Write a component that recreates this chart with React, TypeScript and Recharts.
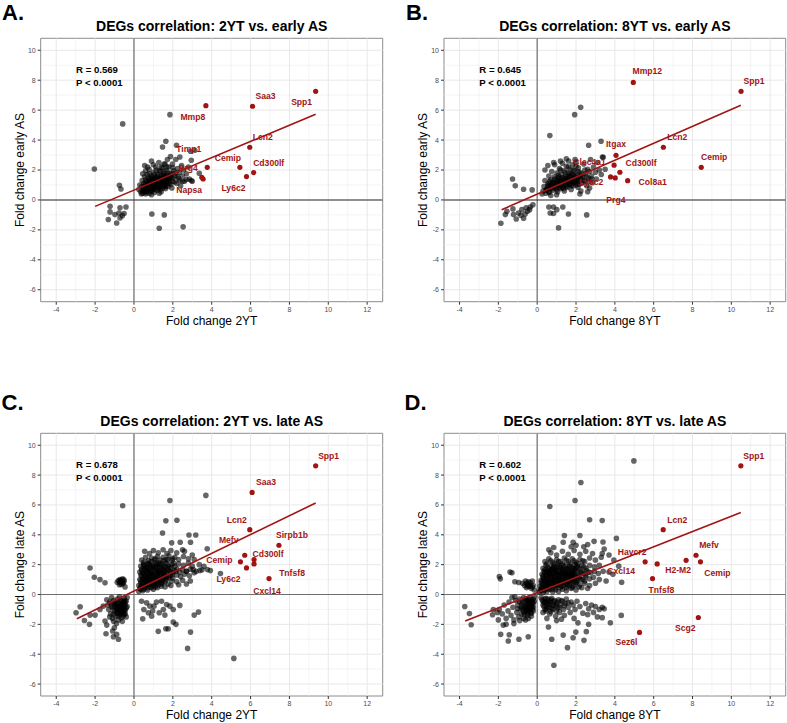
import React from 'react';
import { ScatterChart, Scatter, XAxis, YAxis, ReferenceLine, ReferenceArea } from 'recharts';

type Pt = [number, number];
type Gene = { gene: string; x: number; y: number };

const RED = '#a11414';
const FONT = '"Liberation Sans", Arial, Helvetica, sans-serif';

const xTicks = [-4, -2, 0, 2, 4, 6, 8, 10, 12];
const xMinor = [-3, -1, 1, 3, 5, 7, 9, 11];
const yTicks = [-6, -4, -2, 0, 2, 4, 6, 8, 10];
const yMinor = [-5, -3, -1, 1, 3, 5, 7, 9];

// ---------- A: 2YT vs early AS ----------
const grayA: Pt[] = [
  [1.85, 5.7], [-0.58, 5.08], [-2.04, 2.07], [1.64, 3.92], [1.47, 3.54], [2.19, 3.65], [2.36, 2.87],
  [2.91, 3.25], [3.13, 3.32], [2.95, 2.65], [3.36, 1.78], [2.5, 1.25], [2.7, 1.36], [3.0, 1.25],
  [-0.75, 0.98], [-0.67, 0.73],
  [-1.23, -0.42], [-1.23, -0.8], [-0.98, -0.98], [-1.32, -1.31], [-0.89, -1.54], [-0.72, -0.53],
  [-0.41, -0.47], [-0.77, -0.87], [-0.6, -1.05], [-0.72, -1.2], [-0.51, -0.91],
  [0.92, -0.94], [1.56, -1.0], [1.3, -1.89], [2.53, -1.8],
  [0.35, 0.55], [0.4, 0.9], [0.42, 1.3], [0.45, 0.45], [0.5, 0.7], [0.5, 1.1], [0.55, 1.55], [0.55, 2.3],
  [0.6, 0.4], [0.62, 0.85], [0.65, 1.25], [0.68, 1.7], [0.7, 0.6], [0.72, 1.0], [0.75, 1.45], [0.78, 2.05],
  [0.8, 0.45], [0.82, 0.8], [0.85, 1.2], [0.88, 1.6], [0.9, 2.6], [0.92, 0.6], [0.95, 1.0], [0.97, 1.35],
  [1.0, 1.85], [1.0, 0.75], [1.05, 0.5], [1.08, 1.15], [1.1, 1.5], [1.12, 2.2], [1.15, 0.9], [1.18, 1.3],
  [1.2, 0.65], [1.22, 1.7], [1.25, 1.05], [1.28, 2.5], [1.3, 0.8], [1.32, 1.4], [1.35, 1.9], [1.38, 1.15],
  [1.4, 0.55], [1.42, 1.6], [1.45, 2.15], [1.48, 0.95], [1.5, 1.3], [1.52, 1.75], [1.55, 2.4], [1.58, 1.05],
  [1.6, 1.45], [1.62, 0.75], [1.65, 2.0], [1.68, 1.25], [1.7, 1.65], [1.72, 2.7], [1.75, 0.9], [1.78, 1.4],
  [1.8, 2.2], [1.82, 1.1], [1.85, 1.8], [1.88, 2.9], [1.9, 1.5], [1.95, 0.8], [1.98, 2.4], [2.0, 1.25],
  [2.05, 1.95], [2.1, 1.6], [2.15, 2.7], [2.2, 1.1], [2.25, 2.1], [2.3, 1.45], [2.35, 1.85], [2.4, 0.95],
  [2.45, 2.3], [2.5, 1.6], [2.55, 2.0], [2.6, 1.25], [2.7, 1.75], [2.8, 2.2], [2.85, 1.4], [0.25, 0.7],
  [0.3, 1.0], [0.45, 1.75], [0.6, 1.95], [0.7, 2.2], [1.0, 2.35], [0.38, 0.4], [0.52, 0.55], [0.9, 0.35],
  [1.3, 0.45], [2.95, 1.3],
];
// the dense middle of the A cloud
const coreA: Pt[] = [
  [0.45, 0.6], [0.55, 0.95], [0.6, 1.35], [0.7, 0.8], [0.75, 1.15], [0.8, 1.75], [0.85, 0.6], [0.9, 1.05],
  [0.95, 1.5], [1.0, 0.9], [1.05, 1.3], [1.05, 1.7], [1.1, 0.7], [1.15, 1.1], [1.2, 1.5], [1.25, 0.85],
  [1.3, 1.25], [1.3, 1.95], [1.35, 0.7], [1.4, 1.05], [1.45, 1.45], [1.5, 0.8], [1.55, 1.15], [1.55, 1.9],
  [1.6, 1.6], [1.65, 0.95], [1.7, 1.35], [1.75, 1.8], [1.8, 1.25], [1.85, 1.55], [1.9, 1.05], [1.95, 1.75],
  [2.0, 1.45], [2.1, 1.2], [2.15, 1.8], [2.25, 1.55], [2.35, 1.3], [0.65, 0.5], [0.95, 0.75], [1.15, 2.0],
  [1.4, 2.2], [1.7, 2.2], [2.0, 2.15], [1.6, 2.4],
  [0.5, 0.8], [0.6, 1.1], [0.7, 0.7], [0.75, 1.3], [0.8, 0.95], [0.9, 1.25], [0.95, 0.7], [1.0, 1.05],
  [1.05, 1.4], [1.1, 0.85], [1.15, 1.2], [1.2, 1.6], [1.25, 0.95], [1.3, 1.35], [1.35, 0.85], [1.4, 1.2],
  [1.45, 1.65], [1.5, 1.05], [1.55, 1.35], [1.6, 0.9], [1.65, 1.55], [1.7, 1.1], [1.8, 1.45], [0.65, 0.9],
  [0.85, 1.45], [1.2, 1.05], [1.4, 1.45], [0.55, 0.6],
];
const genesA: Gene[] = [
  { gene: 'Spp1', x: 9.35, y: 7.26 },
  { gene: 'Saa3', x: 6.1, y: 6.26 },
  { gene: 'Mmp8', x: 3.7, y: 6.3 },
  { gene: 'Lcn2', x: 5.96, y: 3.52 },
  { gene: 'Cemip', x: 5.45, y: 2.18 },
  { gene: 'Cd300lf', x: 6.16, y: 1.83 },
  { gene: 'Ly6c2', x: 5.79, y: 1.56 },
  { gene: 'Timp1', x: 3.49, y: 1.51 },
  { gene: 'Prg4', x: 3.77, y: 2.18 },
  { gene: 'Napsa', x: 3.56, y: 1.4 },
];
const fitA: Pt[] = [[-2.0, -0.43], [9.35, 5.72]];
const statA = ['R = 0.569', 'P < 0.0001'];
const nudgeA: Record<string, Pt> = {
  Spp1: [-14, 11], Saa3: [13, -10], Mmp8: [-13, 11], Lcn2: [13, -10], Cemip: [-12, -9],
  Cd300lf: [15, -10], Ly6c2: [-13, 11], Timp1: [-13, -28], Prg4: [-19, 1], Napsa: [-14, 11],
};

// ---------- B: 8YT vs early AS ----------
const grayB: Pt[] = [
  [1.93, 5.7], [2.24, 6.19], [0.65, 4.3], [3.29, 3.92], [2.65, 3.65], [3.36, 2.87],
  [-1.27, 1.4], [-1.13, 0.94], [-0.7, 0.71], [-0.26, 0.67],
  [-1.87, -1.56], [-1.56, -0.76], [-1.64, -0.98], [-1.25, -0.6], [-1.08, -1.27], [-0.84, -1.02],
  [-0.7, -1.22], [-0.62, -0.94], [-0.5, -0.76], [-0.36, -0.47], [-0.22, -0.33], [-0.79, -0.65],
  [-0.57, -0.53], [-0.96, -0.87], [-1.22, -0.98], [-0.39, -0.65],
  [0.6, -0.47], [0.84, -0.47], [1.01, -0.65], [0.84, -0.91], [1.32, -0.47], [1.61, -0.94],
  [1.1, -1.87], [2.55, -1.0], [0.67, -0.87],
  [0.3, 0.6], [0.35, 0.9], [0.4, 1.3], [0.45, 0.45], [0.5, 0.75], [0.55, 1.1], [0.6, 1.6], [0.62, 0.5],
  [0.68, 0.95], [0.7, 1.35], [0.75, 1.9], [0.8, 0.65], [0.85, 1.15], [0.88, 1.55], [0.9, 2.35], [0.95, 0.8],
  [1.0, 1.3], [1.02, 1.8], [1.05, 0.55], [1.1, 1.0], [1.12, 1.5], [1.15, 2.1], [1.2, 0.75], [1.22, 1.25],
  [1.25, 1.7], [1.3, 2.45], [1.32, 0.95], [1.35, 1.4], [1.38, 1.95], [1.4, 0.6], [1.45, 1.15], [1.48, 1.6],
  [1.5, 2.25], [1.55, 0.85], [1.58, 1.3], [1.6, 1.8], [1.62, 2.6], [1.65, 1.05], [1.68, 1.5], [1.7, 2.05],
  [1.75, 0.7], [1.78, 1.25], [1.8, 1.7], [1.82, 2.35], [1.85, 0.95], [1.9, 1.45], [1.92, 1.95], [1.95, 2.7],
  [2.0, 1.15], [2.05, 1.65], [2.1, 0.85], [2.12, 2.15], [2.15, 1.35], [2.2, 1.85], [2.25, 0.6], [2.3, 1.1],
  [2.35, 1.55], [2.4, 2.4], [2.45, 1.25], [2.5, 1.75], [2.55, 0.95], [2.6, 2.05], [2.65, 1.45], [2.7, 0.8],
  [2.75, 2.7], [2.8, 1.6], [2.85, 1.15], [2.9, 2.2], [3.0, 1.85], [3.05, 1.4], [3.1, 2.5], [3.2, 2.0],
  [3.3, 1.7], [3.4, 2.85], [3.5, 2.05], [0.25, 0.4], [0.4, 2.0], [0.55, 2.3], [0.85, 2.5], [1.2, 2.6],
  [1.5, 2.75], [2.0, 2.5], [2.2, 0.4], [2.6, 0.55], [1.0, 0.35], [0.7, 0.3],
];
const coreB: Pt[] = [
  [0.45, 0.65], [0.55, 0.95], [0.65, 1.25], [0.75, 0.75], [0.8, 1.1], [0.9, 1.4], [0.95, 0.95], [1.05, 1.2],
  [1.1, 1.65], [1.15, 0.85], [1.25, 1.05], [1.3, 1.5], [1.35, 0.75], [1.4, 1.25], [1.45, 1.85], [1.5, 1.0],
  [1.55, 1.45], [1.65, 1.2], [1.7, 1.75], [1.75, 0.95], [1.8, 1.4], [1.85, 2.0], [1.9, 1.15], [1.95, 1.6],
  [2.05, 1.35], [2.1, 1.9], [2.15, 1.05], [2.25, 1.45], [2.3, 1.75], [2.4, 1.3], [2.45, 2.0], [2.55, 1.55],
  [2.65, 1.2], [2.7, 1.9], [2.8, 1.4], [0.6, 0.55], [1.0, 0.7], [1.2, 2.0], [1.6, 2.2], [2.0, 2.25],
  [0.5, 0.7], [0.6, 1.0], [0.7, 0.8], [0.8, 1.2], [0.9, 0.9], [1.0, 1.1], [1.05, 1.45], [1.15, 1.0],
  [1.2, 1.35], [1.3, 0.85], [1.35, 1.2], [1.45, 1.5], [1.5, 0.9], [1.55, 1.25], [1.65, 1.6], [1.7, 1.05],
  [1.8, 1.3], [1.85, 1.7], [1.95, 1.2], [2.05, 1.5], [2.15, 1.25], [2.25, 1.6], [0.75, 1.0], [1.1, 1.25],
  [1.6, 1.4], [2.0, 1.0],
];
const genesB: Gene[] = [
  { gene: 'Mmp12', x: 4.95, y: 7.85 },
  { gene: 'Spp1', x: 10.5, y: 7.26 },
  { gene: 'Lcn2', x: 6.5, y: 3.52 },
  { gene: 'Cemip', x: 8.45, y: 2.18 },
  { gene: 'Itgax', x: 4.06, y: 2.98 },
  { gene: 'Cd300lf', x: 3.96, y: 2.32 },
  { gene: 'Clec4a1', x: 3.78, y: 1.54 },
  { gene: 'Ly6c2', x: 4.02, y: 1.47 },
  { gene: 'Prg4', x: 4.26, y: 1.85 },
  { gene: 'Col8a1', x: 4.66, y: 1.29 },
];
const fitB: Pt[] = [[-1.83, -0.65], [10.49, 6.32]];
const statB = ['R = 0.645', 'P < 0.0001'];
const nudgeB: Record<string, Pt> = {
  Mmp12: [14, -11], Spp1: [13, -10], Lcn2: [14, -10], Cemip: [13, -10], Itgax: [0, -11],
  Cd300lf: [27, -2], Clec4a1: [-21, -15], Ly6c2: [-24, 4], Prg4: [-4, 28], Col8a1: [25, 1],
};

// ---------- C: 2YT vs late AS ----------
const grayC: Pt[] = [
  [-0.58, 5.95], [1.85, 6.3], [3.7, 6.64], [1.64, 4.94], [2.21, 4.97], [1.47, 4.12], [2.83, 3.99],
  [3.18, 3.99], [2.38, 3.5], [2.91, 3.5], [1.94, 3.46], [3.77, 3.07], [3.6, 1.89], [3.78, 1.67],
  [3.93, 1.6], [3.39, 1.6], [4.45, 1.4], [3.0, 2.65], [2.5, 3.0], [3.1, 2.34], [3.36, 2.0], [3.05, 1.67],
  [2.7, 1.56],
  [-2.26, 1.78], [-2.04, 1.16], [-1.75, 1.0], [-1.49, 0.78],
  [-0.86, 0.82], [-0.72, 1.0], [-0.58, 1.05], [-0.51, 0.89], [-0.72, 0.78], [-0.63, 0.67], [-0.46, 0.51],
  [-0.8, 0.93], [-0.55, 0.75], [-0.65, 0.95], [-0.75, 0.65],
  [-2.98, -1.22], [-2.77, -0.82], [-2.55, -1.74], [-2.29, -2.0], [-2.26, -1.38], [-2.0, -1.38],
  [-1.58, -0.78], [-1.49, -1.78], [-1.4, -2.05], [-1.44, -2.63], [-1.1, -2.45], [-1.06, -2.83],
  [-0.89, -2.67], [-0.8, -3.0], [-1.01, -2.23], [-1.75, -1.0],
  [0.39, -0.45], [0.65, -0.56], [0.51, -1.0], [0.45, -1.63], [0.91, -1.45], [1.03, -0.78], [1.16, -0.51],
  [1.42, -0.45], [1.51, -1.0], [1.3, -1.22], [1.59, -1.38], [1.25, -2.47], [1.64, -2.29], [1.76, -2.29],
  [2.02, -1.85], [2.16, -2.0], [1.85, -0.78], [2.36, -0.73], [2.91, -2.52], [2.76, -3.61], [3.1, -1.38],
  [3.32, -1.18], [5.14, -4.28], [0.74, -1.22], [0.96, -1.11], [0.82, -0.78], [2.02, -1.0], [1.68, -0.67],
  [-1.35, -0.7], [-1.3, -1.0], [-1.25, -0.5], [-1.2, -1.3], [-1.15, -0.8], [-1.1, -1.6], [-1.05, -0.4],
  [-1.0, -1.1], [-0.95, -0.65], [-0.95, -1.45], [-0.9, -0.9], [-0.85, -0.3], [-0.85, -1.25], [-0.8, -0.6],
  [-0.8, -1.7], [-0.75, -1.0], [-0.7, -0.4], [-0.7, -1.35], [-0.65, -0.75], [-0.65, -1.55], [-0.6, -1.1],
  [-0.55, -0.5], [-0.55, -0.9], [-0.5, -1.3], [-0.5, -0.25], [-0.45, -0.7], [-0.45, -1.05], [-0.4, -0.45],
  [-0.4, -1.5], [-0.35, -0.8], [-0.35, -0.2], [-1.4, -0.35], [-1.25, -1.5], [-1.05, -1.8], [-0.9, -1.95],
  [-1.15, -0.2], [-0.6, -1.8], [-0.75, -0.15], [-1.0, -0.55], [-0.55, -1.45],
  [0.25, 0.2], [0.35, 0.35], [0.45, 0.25], [0.55, 0.45], [0.7, 0.3], [0.85, 0.5], [1.0, 0.35], [1.2, 0.45],
  [1.4, 0.55], [1.6, 0.5], [1.9, 0.6], [2.3, 0.65], [2.7, 0.7],
  [0.25, 0.6], [0.35, 0.75], [0.45, 0.65], [0.55, 0.85], [0.65, 0.7], [0.75, 0.9], [0.85, 0.75], [0.95, 0.65],
  [1.05, 0.85], [1.15, 0.7], [1.3, 0.9], [1.45, 0.75], [1.6, 0.85], [1.75, 0.7], [1.95, 0.9], [2.2, 0.85],
  [2.5, 0.95], [2.9, 0.9],
  [0.3, 1.0], [0.4, 1.2], [0.5, 1.05], [0.6, 1.25], [0.7, 1.1], [0.8, 1.3], [0.9, 1.0], [1.0, 1.2],
  [1.1, 1.05], [1.2, 1.3], [1.3, 1.1], [1.4, 1.25], [1.5, 1.0], [1.6, 1.3], [1.7, 1.15], [1.85, 1.25],
  [2.0, 1.1], [2.2, 1.3], [2.4, 1.2], [2.6, 1.35], [2.85, 1.25], [3.1, 1.45],
  [0.3, 1.5], [0.45, 1.4], [0.55, 1.65], [0.65, 1.45], [0.8, 1.6], [0.9, 1.4], [1.0, 1.7], [1.1, 1.5],
  [1.25, 1.6], [1.35, 1.45], [1.5, 1.7], [1.6, 1.5], [1.75, 1.65], [1.9, 1.45], [2.05, 1.6], [2.2, 1.7],
  [2.35, 1.5], [2.5, 1.65], [2.7, 1.55], [2.9, 1.7], [3.2, 1.55], [3.5, 1.65],
  [0.35, 1.9], [0.5, 2.0], [0.65, 1.85], [0.8, 2.05], [0.95, 1.9], [1.1, 2.1], [1.2, 1.85], [1.35, 2.0],
  [1.5, 1.9], [1.65, 2.1], [1.8, 1.85], [1.95, 2.0], [2.1, 1.9], [2.3, 2.05], [2.55, 1.95], [2.8, 2.1],
  [3.0, 1.9],
  [0.4, 2.3], [0.6, 2.5], [0.75, 2.25], [0.9, 2.45], [1.05, 2.3], [1.2, 2.55], [1.35, 2.3], [1.5, 2.5],
  [1.65, 2.35], [1.8, 2.6], [1.95, 2.3], [2.1, 2.5], [2.3, 2.35], [2.55, 2.55], [2.8, 2.4],
  [0.55, 2.9], [0.8, 2.75], [1.0, 2.95], [1.25, 2.8], [1.5, 3.0], [1.7, 2.75], [1.9, 2.95], [2.2, 2.8],
  [2.6, 2.9],
];
const coreC: Pt[] = [
  [0.3, 0.4], [0.4, 0.55], [0.5, 0.35], [0.6, 0.6], [0.7, 0.45], [0.8, 0.65], [0.9, 0.45], [1.0, 0.7],
  [1.1, 0.5], [1.25, 0.65], [1.4, 0.7],
  [0.35, 0.9], [0.45, 1.05], [0.55, 0.95], [0.65, 1.1], [0.75, 1.0], [0.85, 1.15], [0.95, 0.95], [1.05, 1.1],
  [1.15, 0.95], [1.25, 1.15], [1.35, 0.95], [1.5, 1.15], [1.65, 1.0], [1.8, 1.1], [1.95, 1.3],
  [0.35, 1.3], [0.5, 1.45], [0.6, 1.35], [0.7, 1.55], [0.85, 1.45], [0.95, 1.3], [1.05, 1.55], [1.2, 1.4],
  [1.3, 1.55], [1.45, 1.5], [1.55, 1.35], [1.7, 1.45], [1.85, 1.55], [2.0, 1.45], [2.15, 1.55],
  [0.4, 1.7], [0.55, 1.8], [0.7, 1.7], [0.85, 1.85], [1.0, 1.8], [1.15, 1.95], [1.3, 1.8], [1.45, 2.05],
  [1.6, 1.85], [1.75, 2.0], [1.9, 1.8], [2.05, 2.1],
  [0.5, 2.15], [0.7, 2.1], [0.9, 2.2], [1.1, 2.4], [1.3, 2.15], [1.55, 2.25], [1.75, 2.35], [2.0, 2.4],
  [-1.2, -0.6], [-1.1, -0.9], [-1.05, -1.3], [-0.95, -0.5], [-0.9, -1.15], [-0.85, -0.75], [-0.8, -1.45],
  [-0.75, -0.8], [-0.7, -1.15], [-0.65, -0.45], [-0.6, -0.95], [-0.55, -1.2], [-0.5, -0.6], [-0.45, -1.3],
  [-0.4, -0.9], [-0.6, -0.65], [-0.75, -1.3], [-1.0, -0.8], [-0.85, -1.0], [-0.5, -0.4],
  [-0.7, 0.85], [-0.6, 0.8], [-0.68, 0.95], [-0.52, 0.98],
  [0.35, 0.5], [0.45, 0.8], [0.55, 0.55], [0.6, 1.0], [0.7, 0.7], [0.75, 1.2], [0.85, 0.85], [0.9, 1.35],
  [1.0, 1.0], [1.05, 0.6], [1.1, 1.3], [1.2, 0.8], [1.25, 1.5], [1.3, 1.0], [1.4, 1.35], [1.45, 0.85],
  [1.55, 1.6], [1.6, 1.15], [1.7, 1.75], [0.4, 1.6], [0.55, 1.25], [0.65, 1.75], [0.8, 1.55], [0.95, 1.9],
  [1.1, 1.75], [1.2, 2.05], [1.4, 1.75], [0.5, 1.95], [0.75, 2.0],
  [-0.9, -0.7], [-0.8, -1.05], [-0.7, -0.6], [-0.65, -0.9], [-0.55, -0.7], [-0.5, -1.0], [-0.45, -0.5],
  [-0.75, -0.85], [-0.6, -1.2],
];
const genesC: Gene[] = [
  { gene: 'Spp1', x: 9.35, y: 8.62 },
  { gene: 'Saa3', x: 6.08, y: 6.84 },
  { gene: 'Lcn2', x: 5.96, y: 4.34 },
  { gene: 'Sirpb1b', x: 7.46, y: 3.3 },
  { gene: 'Mefv', x: 5.7, y: 2.63 },
  { gene: 'Cd300lf', x: 6.18, y: 2.34 },
  { gene: 'Cxcl14', x: 6.18, y: 2.05 },
  { gene: 'Cemip', x: 5.48, y: 2.19 },
  { gene: 'Ly6c2', x: 5.79, y: 1.78 },
  { gene: 'Tnfsf8', x: 6.95, y: 1.07 },
];
const fitC: Pt[] = [[-2.94, -1.62], [9.35, 6.13]];
const statC = ['R = 0.678', 'P < 0.0001'];
const nudgeC: Record<string, Pt> = {
  Spp1: [13, -10], Saa3: [14, -10], Lcn2: [-13, -10], Sirpb1b: [13, -10], Mefv: [-16, -15],
  Cd300lf: [14, -6], Cxcl14: [13, 27], Cemip: [-21, -2], Ly6c2: [-18, 11], Tnfsf8: [23, -6],
};

// ---------- D: 8YT vs late AS ----------
const grayD: Pt[] = [
  [4.98, 8.95], [2.25, 7.5], [1.95, 6.3], [0.65, 5.9], [2.7, 5.0], [3.35, 4.95],
  [1.4, 3.95], [2.2, 3.95], [1.34, 3.5], [1.85, 3.5], [1.75, 3.2], [2.0, 3.3], [2.4, 3.2], [2.6, 3.35],
  [2.93, 3.56], [3.39, 3.52], [4.08, 3.76], [3.7, 2.65], [3.95, 2.3], [4.2, 1.9], [3.9, 1.35], [4.35, 0.82],
  [3.55, 0.9], [0.6, 3.0], [0.85, 3.15],
  [-1.95, 1.2], [-1.9, 1.05], [-1.4, 1.5], [-1.3, 1.45], [-1.15, 0.85], [-0.95, 0.8], [-0.75, 0.75],
  [-0.6, 0.9], [-0.5, 0.7], [-0.4, 0.55], [-0.55, 0.45], [-0.35, 0.8], [-0.3, 0.4], [-0.2, 0.6],
  [-0.15, 0.3], [-0.45, 0.85], [-0.65, 0.6], [-0.25, 0.9],
  [-3.73, -0.8], [-3.49, -1.27], [-3.4, -2.03], [-2.26, -1.0], [-2.3, -1.36], [-2.05, -1.2],
  [-1.75, -2.05], [-1.88, -2.67], [-1.44, -2.7], [-1.49, -3.12], [-0.94, -3.0], [-0.46, -2.83],
  [-1.6, -2.0], [-1.2, -1.95], [-2.0, -1.7],
  [-1.95, -1.0], [-1.8, -1.3], [-1.7, -0.7], [-1.6, -1.6], [-1.5, -1.1], [-1.45, -0.5], [-1.35, -1.4],
  [-1.25, -0.85], [-1.2, -1.7], [-1.1, -0.4], [-1.05, -1.2], [-1.0, -0.7], [-0.95, -1.5], [-0.9, -0.3],
  [-0.85, -0.95], [-0.8, -1.3], [-0.75, -0.55], [-0.7, -1.6], [-0.65, -0.8], [-0.6, -1.1], [-0.55, -0.35],
  [-0.5, -1.4], [-0.5, -0.65], [-0.45, -0.95], [-0.4, -0.2], [-0.35, -1.2], [-0.35, -0.5], [-0.3, -0.8],
  [-0.25, -1.0], [-0.2, -0.3], [-0.2, -0.6], [-0.15, -0.15], [-0.6, -1.7], [-0.9, -1.75], [-1.15, -0.15],
  [-0.7, -0.2], [-0.45, -1.6], [-0.3, -1.45], [-1.3, -0.2], [-0.8, -0.65], [-0.55, -0.85], [-0.4, -0.7],
  [-0.25, -0.45], [-0.65, -1.35],
  [0.2, -0.2], [0.3, -0.45], [0.35, -0.8], [0.4, -0.3], [0.45, -1.1], [0.5, -0.55], [0.55, -0.3],
  [0.6, -0.85], [0.65, -1.3], [0.7, -0.5], [0.75, -0.25], [0.8, -1.0], [0.85, -0.7], [0.9, -0.4],
  [0.95, -1.45], [1.0, -0.6], [1.05, -0.9], [1.1, -0.35], [1.15, -1.2], [1.2, -0.7], [1.3, -0.45],
  [1.35, -1.0], [1.4, -1.4], [1.45, -0.6], [1.5, -0.3], [1.6, -0.85], [1.7, -1.2], [1.75, -0.5],
  [1.85, -0.7], [1.95, -1.0], [2.05, -0.45], [2.2, -0.8], [2.35, -1.25], [2.5, -0.6], [2.65, -0.95],
  [2.8, -0.7], [3.0, -0.8], [3.2, -1.0], [3.35, -0.85], [3.1, -1.5], [3.35, -1.55], [3.77, -1.89],
  [4.33, -1.4], [2.65, -2.0], [2.41, -3.07], [1.85, -2.9], [1.56, -3.56], [0.86, -4.74], [1.34, -2.72],
  [0.75, -3.0], [1.99, -2.52], [2.53, -2.49], [0.58, -2.18], [1.0, -1.75], [1.9, -1.6], [2.1, -1.9],
  [0.3, -1.2], [0.5, -1.6], [1.25, -1.65], [2.6, -1.35], [2.9, -1.2], [3.45, -0.95],
  [0.1, 0.15], [0.2, 0.3], [0.3, 0.12], [0.4, 0.35], [0.5, 0.2], [0.65, 0.38], [0.8, 0.18], [0.95, 0.32],
  [1.1, 0.2], [1.3, 0.35], [1.5, 0.25], [1.75, 0.4], [2.0, 0.3], [2.3, 0.45], [2.6, 0.4],
  [0.15, 0.55], [0.25, 0.7], [0.35, 0.5], [0.45, 0.8], [0.55, 0.6], [0.7, 0.75], [0.8, 0.55], [0.9, 0.8],
  [1.0, 0.6], [1.15, 0.75], [1.25, 0.55], [1.4, 0.8], [1.55, 0.6], [1.7, 0.75], [1.85, 0.55], [2.0, 0.8],
  [2.2, 0.65], [2.45, 0.75], [2.7, 0.6], [3.0, 0.75],
  [0.2, 0.95], [0.3, 1.15], [0.4, 0.9], [0.5, 1.1], [0.6, 0.95], [0.7, 1.2], [0.8, 1.0], [0.9, 1.15],
  [1.0, 0.9], [1.1, 1.1], [1.2, 0.95], [1.3, 1.2], [1.4, 1.0], [1.5, 1.15], [1.6, 0.9], [1.7, 1.1],
  [1.8, 1.0], [1.9, 1.2], [2.05, 0.95], [2.2, 1.15], [2.35, 1.0], [2.5, 1.2], [2.7, 1.05], [2.9, 1.15],
  [3.2, 1.0],
  [0.25, 1.35], [0.35, 1.55], [0.45, 1.3], [0.55, 1.5], [0.65, 1.35], [0.75, 1.6], [0.85, 1.4], [0.95, 1.55],
  [1.05, 1.3], [1.15, 1.5], [1.25, 1.4], [1.35, 1.6], [1.45, 1.35], [1.55, 1.5], [1.65, 1.3], [1.75, 1.55],
  [1.85, 1.4], [1.95, 1.6], [2.1, 1.35], [2.25, 1.55], [2.4, 1.4], [2.55, 1.6], [2.75, 1.45], [2.95, 1.55],
  [3.15, 1.4], [3.4, 1.55], [3.7, 1.5],
  [0.3, 1.75], [0.45, 1.95], [0.6, 1.7], [0.75, 1.9], [0.9, 1.75], [1.05, 2.0], [1.2, 1.8], [1.35, 1.95],
  [1.5, 1.7], [1.65, 1.9], [1.8, 1.75], [1.95, 2.0], [2.1, 1.8], [2.3, 1.95], [2.5, 1.75], [2.7, 1.95],
  [2.95, 1.85], [3.2, 1.95],
  [0.4, 2.2], [0.6, 2.4], [0.8, 2.15], [1.0, 2.35], [1.2, 2.2], [1.4, 2.45], [1.6, 2.2], [1.8, 2.4],
  [2.0, 2.15], [2.2, 2.35], [2.45, 2.2], [2.7, 2.45], [3.0, 2.3], [3.3, 2.5],
  [0.7, 2.8], [1.0, 2.65], [1.3, 2.9], [1.6, 2.7], [1.9, 2.95], [2.2, 2.7], [2.5, 2.9], [2.85, 2.75],
  [3.35, 2.75], [3.45, 3.05],
];
const coreD: Pt[] = [
  [0.15, 0.25], [0.25, 0.45], [0.35, 0.25], [0.45, 0.5], [0.55, 0.35], [0.65, 0.55], [0.75, 0.35], [0.85, 0.6],
  [0.95, 0.45], [1.05, 0.65], [1.2, 0.45], [1.35, 0.6], [1.5, 0.45], [1.65, 0.6], [1.8, 0.45], [1.95, 0.65],
  [2.15, 0.5],
  [0.2, 0.8], [0.3, 0.95], [0.4, 0.75], [0.5, 0.95], [0.6, 0.8], [0.7, 1.0], [0.8, 0.85], [0.9, 1.0],
  [1.0, 0.8], [1.1, 0.95], [1.2, 0.8], [1.3, 1.0], [1.45, 0.85], [1.6, 1.0], [1.75, 0.85], [1.9, 1.05],
  [2.05, 0.85], [2.25, 1.0], [2.45, 0.9],
  [0.3, 1.25], [0.4, 1.45], [0.5, 1.25], [0.6, 1.4], [0.7, 1.25], [0.8, 1.45], [0.9, 1.3], [1.0, 1.45],
  [1.1, 1.25], [1.2, 1.4], [1.3, 1.3], [1.4, 1.5], [1.5, 1.25], [1.6, 1.45], [1.7, 1.25], [1.8, 1.5],
  [1.9, 1.3], [2.0, 1.5], [2.15, 1.25], [2.3, 1.45], [2.5, 1.3], [2.65, 1.5],
  [0.4, 1.65], [0.55, 1.8], [0.7, 1.65], [0.85, 1.85], [1.0, 1.65], [1.15, 1.85], [1.3, 1.7], [1.45, 1.9],
  [1.6, 1.65], [1.75, 1.85], [1.9, 1.7], [2.05, 1.9], [2.2, 1.7], [2.4, 1.85],
  [0.5, 2.05], [0.7, 2.25], [0.9, 2.05], [1.1, 2.2], [1.3, 2.05], [1.5, 2.3], [1.7, 2.05], [1.9, 2.25],
  [2.1, 2.05], [2.35, 2.25],
  [-0.9, -0.5], [-0.8, -0.85], [-0.7, -1.2], [-0.65, -0.45], [-0.6, -0.75], [-0.55, -1.05], [-0.5, -1.25],
  [-0.45, -0.55], [-0.4, -0.85], [-0.35, -1.0], [-0.3, -0.35], [-0.3, -0.65], [-0.25, -0.8], [-0.2, -1.1],
  [-0.15, -0.45], [-0.6, -0.3], [-0.45, -0.35], [-1.0, -0.95], [-0.75, -1.0], [-0.3, -1.25],
  [0.25, -0.35], [0.35, -0.55], [0.45, -0.25], [0.5, -0.8], [0.6, -0.45], [0.65, -0.65], [0.75, -0.95],
  [0.85, -0.45], [0.95, -0.75], [1.05, -0.5], [1.15, -0.85], [1.25, -0.4], [0.4, -1.0], [0.7, -1.15],
  [0.3, -0.7], [1.0, -1.1], [1.4, -0.75], [1.6, -0.55],
  [-0.55, 0.75], [-0.45, 0.65], [-0.35, 0.6], [-0.25, 0.5], [-0.5, 0.55],
  [0.2, 0.4], [0.3, 0.65], [0.4, 0.45], [0.5, 0.7], [0.6, 0.5], [0.7, 0.85], [0.8, 0.65], [0.9, 0.9],
  [1.0, 0.7], [1.1, 1.05], [1.2, 0.65], [1.3, 0.85], [1.4, 1.15], [1.5, 0.7], [1.6, 1.2], [1.7, 0.95],
  [1.8, 1.25], [1.9, 0.85], [2.0, 1.15], [0.35, 1.05], [0.55, 1.2], [0.65, 1.55], [0.85, 1.2], [0.95, 1.6],
  [1.15, 1.3], [1.25, 1.65], [1.45, 1.4], [1.55, 1.75], [1.75, 1.4], [1.95, 1.75], [0.5, 1.55], [0.8, 1.75],
  [1.05, 1.85],
  [-0.5, -0.45], [-0.4, -0.6], [-0.35, -0.85], [-0.25, -0.55], [-0.2, -0.85], [-0.55, -0.9], [-0.45, -1.1],
  [0.4, -0.5], [0.55, -0.65], [0.7, -0.35], [0.8, -0.75], [0.5, -0.95],
];
const genesD: Gene[] = [
  { gene: 'Spp1', x: 10.49, y: 8.62 },
  { gene: 'Lcn2', x: 6.49, y: 4.34 },
  { gene: 'Mefv', x: 8.18, y: 2.63 },
  { gene: 'H2-M2', x: 7.67, y: 2.29 },
  { gene: 'Cemip', x: 8.41, y: 2.19 },
  { gene: 'Havcr2', x: 5.56, y: 2.19 },
  { gene: 'Cxcl14', x: 6.18, y: 2.05 },
  { gene: 'Tnfsf8', x: 5.94, y: 1.07 },
  { gene: 'Scg2', x: 8.3, y: -1.54 },
  { gene: 'Sez6l', x: 5.27, y: -2.54 },
];
const fitD: Pt[] = [[-3.71, -1.78], [10.49, 5.5]];
const statD = ['R = 0.602', 'P < 0.0001'];
const nudgeD: Record<string, Pt> = {
  Spp1: [13, -10], Lcn2: [14, -10], Mefv: [13, -10], 'H2-M2': [-8, 10], Cemip: [17, 11],
  Havcr2: [-13, -10], Cxcl14: [-36, 7], Tnfsf8: [9, 11], Scg2: [-13, 11], Sez6l: [-13, 10],
};

type PanelSpec = {
  letter: string;
  title: string;
  xLabel: string;
  yLabel: string;
  left: number;
  top: number;
  w: number;
  h: number;
  plot: { l: number; t: number; r: number; b: number };
  letterX: number;
  letterY: number;
  gray: Pt[];
  genes: Gene[];
  fit: Pt[];
  stat: string[];
  nudge: Record<string, Pt>;
  hline: string;
};

const toXY = (pts: Pt[]) => pts.map(([x, y]) => ({ x, y }));

const GrayDot = (props: any) => <circle cx={props.cx} cy={props.cy} r={2.8} fill="#000" fillOpacity={0.6} />;

const makeGeneShape = (nudge: Record<string, Pt>) => (props: any) => {
  const { cx, cy, payload } = props;
  const [dx, dy] = nudge[payload.gene] ?? [12, -10];
  return (
    <g>
      <circle cx={cx} cy={cy} r={2.6} fill={RED} />
      <text x={cx + dx} y={cy + dy} textAnchor="middle" dominantBaseline="central"
        fontFamily={FONT} fontSize={8.6} fontWeight="bold" fill={RED}>
        {payload.gene}
      </text>
    </g>
  );
};

const StatText = (props: any) => (
  <text x={props.cx} y={props.cy} dominantBaseline="central" fontFamily={FONT} fontSize={9.6}
    fontWeight="bold" fill="#000">
    {props.payload.text}
  </text>
);

function Panel({ p }: { p: PanelSpec }) {
  const { plot } = p;
  const statPts = [
    { x: -2.98, y: 8.71, text: p.stat[0] },
    { x: -2.98, y: 7.82, text: p.stat[1] },
  ];
  const cx = (plot.l + plot.r) / 2;
  return (
    <div style={{ position: 'absolute', left: p.left, top: p.top, width: p.w, height: p.h }}>
      <svg width={p.w} height={p.h} style={{ position: 'absolute', left: 0, top: 0 }}>
        <text x={p.letterX} y={p.letterY} fontFamily={FONT} fontSize={22} fontWeight="bold" fill="#000">
          {p.letter}
        </text>
        <text x={cx} y={plot.t - 7.6} textAnchor="middle" fontFamily={FONT} fontSize={14} fontWeight="bold" fill="#000">
          {p.title}
        </text>
      </svg>
      <div style={{ position: 'absolute', left: 0, top: 0 }}>
        <ScatterChart width={p.w} height={p.h}
          margin={{ top: plot.t, right: p.w - plot.r, bottom: 0, left: 0 }}>
          <XAxis type="number" dataKey="x" domain={[-4.8, 12.8]} ticks={xTicks} allowDataOverflow
            height={p.h - plot.b} axisLine={false} tickSize={3} tickMargin={2}
            tickLine={{ stroke: '#333' }}
            tick={{ fontSize: 7, fill: '#4d4d4d', fontFamily: FONT }}
            label={{ value: p.xLabel, position: 'insideBottom', offset: p.h - plot.b - 23.3,
              style: { fontSize: 12, fill: '#000', fontFamily: FONT } }} />
          <YAxis type="number" dataKey="y" domain={[-6.8, 10.8]} ticks={yTicks} allowDataOverflow
            width={plot.l} axisLine={false} tickSize={3} tickMargin={2}
            tickLine={{ stroke: '#333' }}
            tick={{ fontSize: 7, fill: '#4d4d4d', fontFamily: FONT }}
            label={{ value: p.yLabel, angle: -90, position: 'insideLeft', offset: plot.l - 21,
              style: { fontSize: 12, fill: '#000', fontFamily: FONT, textAnchor: 'middle' } }} />
          {xMinor.map(v => <ReferenceLine key={`xm${v}`} x={v} stroke="#ededed" strokeWidth={0.6} />)}
          {yMinor.map(v => <ReferenceLine key={`ym${v}`} y={v} stroke="#ededed" strokeWidth={0.6} />)}
          {xTicks.map(v => <ReferenceLine key={`xM${v}`} x={v} stroke="#e8e8e8" strokeWidth={1} />)}
          {yTicks.map(v => <ReferenceLine key={`yM${v}`} y={v} stroke="#e8e8e8" strokeWidth={1} />)}
          <ReferenceLine x={0} stroke="#7a7a7a" strokeWidth={1.3} />
          <ReferenceLine y={0} stroke={p.hline} strokeWidth={1.1} />
          <ReferenceArea x1={-4.8} x2={12.8} y1={-6.8} y2={10.8} fill="none" fillOpacity={0}
            stroke="#8c8c8c" strokeWidth={1} />
          <Scatter data={toXY(p.gray)} shape={GrayDot} isAnimationActive={false} />
          <Scatter data={p.genes} shape={makeGeneShape(p.nudge)} isAnimationActive={false} />
          <Scatter data={statPts} shape={StatText} isAnimationActive={false} />
          <Scatter data={toXY(p.fit)} line={{ stroke: RED, strokeWidth: 1.6 }} shape={() => <g />}
            isAnimationActive={false} />
        </ScatterChart>
      </div>
    </div>
  );
}

const panels: PanelSpec[] = [
  {
    letter: 'A.', title: 'DEGs correlation: 2YT vs. early AS', xLabel: 'Fold change 2YT', yLabel: 'Fold change early AS',
    left: 0, top: 0, w: 393, h: 330, plot: { l: 40.7, t: 38.3, r: 382.7, b: 301.7 },
    letterX: 2, letterY: 19.5, gray: [...grayA, ...coreA], genes: genesA, fit: fitA, stat: statA, nudge: nudgeA,
    hline: '#2b2b2b',
  },
  {
    letter: 'B.', title: 'DEGs correlation: 8YT vs. early AS', xLabel: 'Fold change 8YT', yLabel: 'Fold change early AS',
    left: 393, top: 0, w: 394, h: 330, plot: { l: 51, t: 38.3, r: 392.7, b: 301.7 },
    letterX: 13, letterY: 19.5, gray: [...grayB, ...coreB], genes: genesB, fit: fitB, stat: statB, nudge: nudgeB,
    hline: '#2b2b2b',
  },
  {
    letter: 'C.', title: 'DEGs correlation: 2YT vs. late AS', xLabel: 'Fold change 2YT', yLabel: 'Fold change late AS',
    left: 0, top: 350, w: 393, h: 373, plot: { l: 40.7, t: 83.3, r: 382.7, b: 346 },
    letterX: 1.5, letterY: 60, gray: [...grayC, ...coreC], genes: genesC, fit: fitC, stat: statC, nudge: nudgeC,
    hline: '#6e6e6e',
  },
  {
    letter: 'D.', title: 'DEGs correlation: 8YT vs. late AS', xLabel: 'Fold change 8YT', yLabel: 'Fold change late AS',
    left: 393, top: 350, w: 394, h: 373, plot: { l: 51, t: 83.3, r: 392.7, b: 346 },
    letterX: 11.5, letterY: 60, gray: [...grayD, ...coreD], genes: genesD, fit: fitD, stat: statD, nudge: nudgeD,
    hline: '#6e6e6e',
  },
];

export default function App() {
  return (
    <div style={{ position: 'absolute', left: 0, top: 0, width: 787, height: 723, background: '#fff', overflow: 'hidden' }}>
      {panels.map(p => <Panel key={p.letter} p={p} />)}
    </div>
  );
}
